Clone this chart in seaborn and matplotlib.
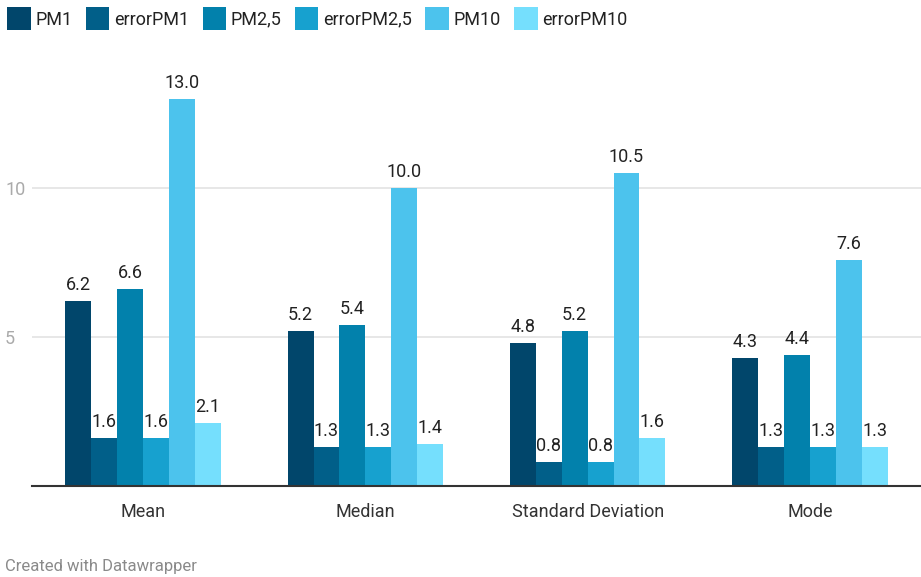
import matplotlib
matplotlib.use("Agg")
import matplotlib.pyplot as plt
import seaborn as sns
import pandas as pd
from matplotlib.patches import Patch

categories = ["Mean", "Median", "Standard Deviation", "Mode"]
series = ["PM1", "errorPM1", "PM2,5", "errorPM2,5", "PM10", "errorPM10"]
pm1 = [6.2, 5.2, 4.8, 4.3]
error_pm1 = [1.6, 1.3, 0.8, 1.3]
pm25 = [6.6, 5.4, 5.2, 4.4]
error_pm25 = [1.6, 1.3, 0.8, 1.3]
pm10 = [13.0, 10.0, 10.5, 7.6]
error_pm10 = [2.1, 1.4, 1.6, 1.3]
colors = ["#01466b", "#015f89", "#0281ac", "#17a1cf", "#4cc3ed", "#75dffd"]

values = [pm1, error_pm1, pm25, error_pm25, pm10, error_pm10]
rows = []
for s, vals in zip(series, values):
    for c, v in zip(categories, vals):
        rows.append({"stat": c, "series": s, "value": v})
df = pd.DataFrame(rows)

sns.set_theme(style="white")
plt.rcParams["font.family"] = ["Roboto", "DejaVu Sans"]

fig = plt.figure(figsize=(9.21, 5.77), dpi=100)
ax = fig.add_axes([32 / 921, 1 - 486 / 577, 1 - 32 / 921, (486 - 68.8) / 577])

sns.barplot(data=df, x="stat", y="value", hue="series", order=categories,
            hue_order=series, palette=colors, saturation=1, width=0.7,
            linewidth=0, ax=ax, legend=False, errorbar=None)

for cont in ax.containers:
    ax.bar_label(cont, fmt="%.1f", padding=5, fontsize=13, color="#222222")

ax.set_xlim(-0.5, 3.5)
ax.set_ylim(0, 14)
ax.set_yticks([5, 10])
ax.set_yticklabels(["5", "10"])
ax.yaxis.grid(True, color="#e3e3e3", linewidth=1.2)
ax.set_axisbelow(True)
for sp in ["top", "right", "left"]:
    ax.spines[sp].set_visible(False)
ax.spines["bottom"].set_color("#333333")
ax.spines["bottom"].set_linewidth(1.5)
ax.set_xlabel("")
ax.set_ylabel("")
ax.tick_params(axis="x", length=0, labelsize=13, labelcolor="#333333", pad=12)
ax.tick_params(axis="y", length=0, labelsize=13, labelcolor="#aaaaaa", pad=0)
for lab in ax.get_yticklabels():
    lab.set_horizontalalignment("left")
    lab.set_x(-27 / 889)

handles = [Patch(facecolor=c, edgecolor="none", label=s) for s, c in zip(series, colors)]
fig.legend(handles=handles, loc="upper left", bbox_to_anchor=(0.0, 1.0), ncol=6,
           frameon=False, fontsize=13, handlelength=1.3, handleheight=1.6,
           handletextpad=0.25, columnspacing=0.75, borderaxespad=0.2,
           borderpad=0.2, labelcolor="#222222")

fig.text(5 / 921, 1 - 566 / 577, "Created with Datawrapper", fontsize=12,
         color="#8a8a8a", va="center", ha="left")

fig.savefig("out.png", dpi=100)
